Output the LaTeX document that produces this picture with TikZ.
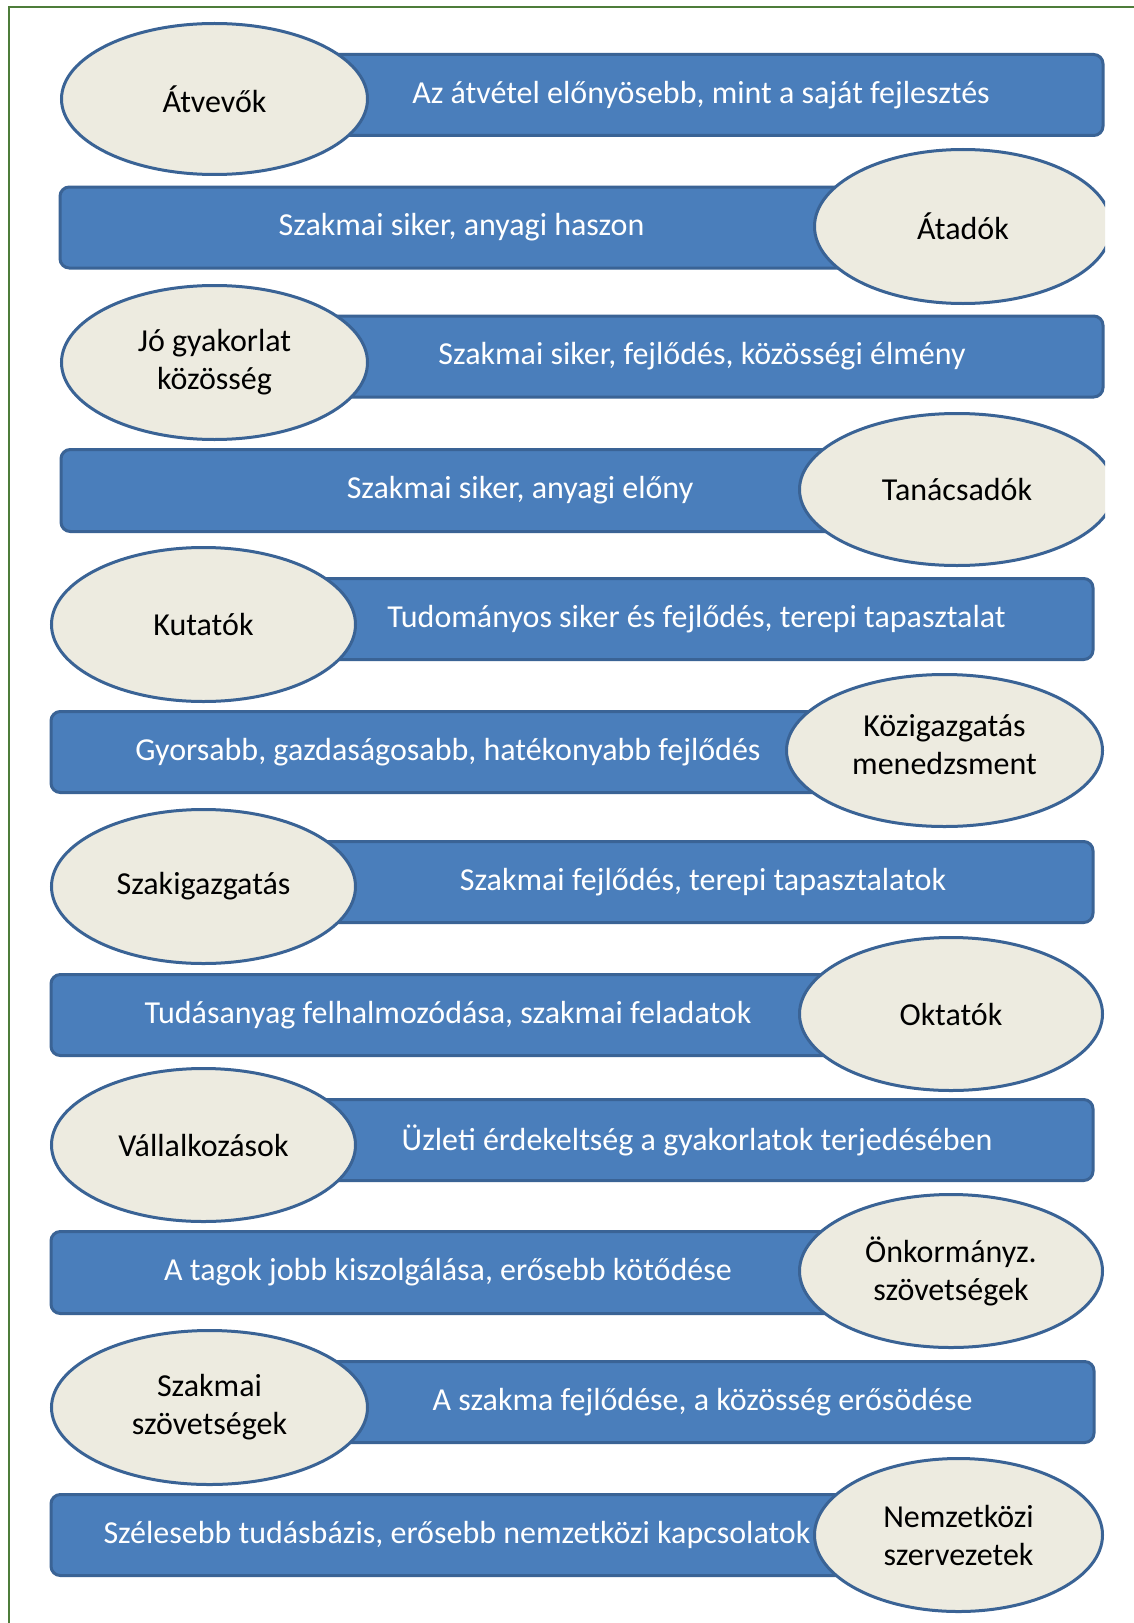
\documentclass[tikz,border=0pt]{standalone}
\usepackage{fontspec}
\setmainfont{Carlito}
\usetikzlibrary{shapes.geometric}
\definecolor{barblue}{HTML}{4A7EBB}
\definecolor{barline}{HTML}{3A6395}
\definecolor{ovalfill}{HTML}{EDEBE0}
\definecolor{framegreen}{HTML}{4E7D3A}
\tikzset{
  bar/.style={draw=barline, line width=2.25pt, fill=barblue, rounded corners=7pt,
    text=white, inner sep=0pt, font=\fontsize{24}{28.5}\selectfont},
  oval/.style={ellipse, draw=barline, line width=2.25pt, fill=ovalfill, inner sep=0pt,
    align=center, font=\fontsize{24}{28.5}\selectfont},
  sz/.style 2 args={minimum width=#1*0.75pt, minimum height=#2*0.75pt},
}
\begin{document}
\begin{tikzpicture}[x=0.75pt,y=-0.75pt]
\useasboundingbox (0,0) rectangle (1134,1623);
\fill[white] (0,0) rectangle (1134,1623);
\draw[framegreen, line width=2pt] (9,1623) -- (9,7) -- (1134,7);
\begin{scope}
\clip (0,0) rectangle (1105,1623);
% row 1
\node[bar, sz={804}{81}] (b1) at (701,95) {Az átvétel előnyösebb, mint a saját fejlesztés};
\node[oval, sz={306}{151}] (e1) at (214.5,99) {Átvevők};
% row 2
\node[bar, sz={803}{81}] (b2) at (461.5,227.5) {Szakmai siker, anyagi haszon};
\node[oval, sz={297}{154}] (e2) at (963,226.5) {Átadók};
% row 3
\node[bar, sz={802}{81}] (b3) at (702,356.5) {Szakmai siker, fejlődés, közösségi élmény};
\node[oval, sz={306}{154}] (e3) at (214.5,362.5) {Jó gyakorlat\\közösség};
% row 4
\node[bar, sz={918}{82}] (b4) at (520,490.5) {Szakmai siker, anyagi előny};
\node[oval, sz={315}{152}] (e4) at (957,489.5) {Tanácsadók};
% row 5
\node[bar, sz={793}{81}] (b5) at (696.5,619) {Tudományos siker és fejlődés, terepi tapasztalat};
\node[oval, sz={304}{154}] (e5) at (203.5,624.5) {Kutatók};
% row 6
\node[bar, sz={794}{81}] (b6) at (448,752) {Gyorsabb, gazdaságosabb, hatékonyabb fejlődés};
\node[oval, sz={316}{152}, text depth=9pt] (e6) at (944.5,750.5) {Közigazgatás\\menedzsment};
% row 7
\node[bar, sz={780}{81}] (b7) at (703,882) {Szakmai fejlődés, terepi tapasztalatok};
\node[oval, sz={304}{154}] (e7) at (203.5,886.5) {Szakigazgatás};
% row 8
\node[bar, sz={794}{81}] (b8) at (448,1015) {Tudásanyag felhalmozódása, szakmai feladatok};
\node[oval, sz={303}{153}] (e8) at (951,1014) {Oktatók};
% row 9
\node[bar, sz={792}{81}] (b9) at (697,1140) {Üzleti érdekeltség a gyakorlatok terjedésében};
\node[oval, sz={304}{153}] (e9) at (203.5,1145) {Vállalkozások};
% row 10
\node[bar, sz={794}{82}] (b10) at (448,1272.5) {A tagok jobb kiszolgálása, erősebb kötődése};
\node[oval, sz={303}{153}] (e10) at (951,1271) {Önkormányz.\\szövetségek};
% row 11
\node[bar, sz={783}{81}] (b11) at (702.5,1402) {A szakma fejlődése, a közösség erősödése};
\node[oval, sz={316}{154}] (e11) at (209.5,1407.5) {Szakmai\\szövetségek};
% row 12
\node[bar, sz={812}{81}] (b12) at (457,1535) {Szélesebb tudásbázis, erősebb nemzetközi kapcsolatok};
\node[oval, sz={288}{153}] (e12) at (958.5,1535) {Nemzetközi\\szervezetek};
\end{scope}
\end{tikzpicture}
\end{document}
